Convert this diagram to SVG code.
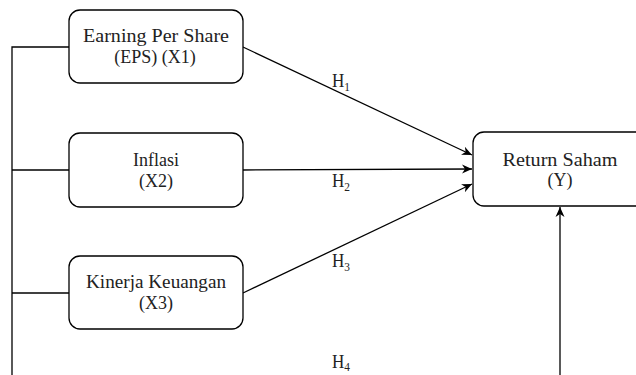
<svg xmlns="http://www.w3.org/2000/svg" width="636" height="375" viewBox="0 0 636 375">
<style>
.box{fill:#fff;stroke:#000;stroke-width:1.3}
.t{font-family:"Liberation Serif","Times New Roman","DejaVu Serif",serif;font-size:18px;fill:#222;text-anchor:middle}
.h{font-family:"Liberation Serif","Times New Roman","DejaVu Serif",serif;font-size:18px;fill:#222}
.s{font-size:12px}
.c{fill:none;stroke:#000;stroke-width:1.3}
</style>
<defs>
<marker id="ah" viewBox="0 0 10 10" refX="10" refY="5" markerWidth="10" markerHeight="10" markerUnits="userSpaceOnUse" orient="auto">
<path d="M0,0.5 L10,5 L0,9.5 L3,5 Z" fill="#000"/>
</marker>
</defs>
<g id="connectors">
<path class="c" d="M12,375 V47 H69"/>
<path class="c" d="M12,170 H69"/>
<path class="c" d="M12,293 H69"/>
<path class="c" d="M243,47 L472,155" marker-end="url(#ah)"/>
<path class="c" d="M243,170 L472,169" marker-end="url(#ah)"/>
<path class="c" d="M243,293 L472,184" marker-end="url(#ah)"/>
<path class="c" d="M560,375 V207" marker-end="url(#ah)"/>
<text class="h" x="332" y="87" textLength="18" lengthAdjust="spacingAndGlyphs">H<tspan class="s" dy="4">1</tspan></text>
<text class="h" x="332" y="187" textLength="18" lengthAdjust="spacingAndGlyphs">H<tspan class="s" dy="4">2</tspan></text>
<text class="h" x="332" y="267" textLength="18" lengthAdjust="spacingAndGlyphs">H<tspan class="s" dy="4">3</tspan></text>
<text class="h" x="332" y="368" textLength="18" lengthAdjust="spacingAndGlyphs">H<tspan class="s" dy="3">4</tspan></text>
</g>
<g id="x1">
<rect class="box" x="69" y="10" width="174" height="73" rx="11"/>
<text class="t" x="156" y="42" textLength="146" lengthAdjust="spacingAndGlyphs">Earning Per Share</text>
<text class="t" x="155" y="63">(EPS) (X1)</text>
</g>
<g id="x2">
<rect class="box" x="69" y="133" width="174" height="74" rx="11"/>
<text class="t" x="156" y="166">Inflasi</text>
<text class="t" x="156" y="187">(X2)</text>
</g>
<g id="x3">
<rect class="box" x="69" y="256" width="174" height="73" rx="11"/>
<text class="t" x="156" y="288" textLength="140" lengthAdjust="spacingAndGlyphs">Kinerja Keuangan</text>
<text class="t" x="156" y="309">(X3)</text>
</g>
<g id="y">
<rect class="box" x="473" y="132" width="175" height="74" rx="11"/>
<text class="t" x="560" y="166" textLength="115" lengthAdjust="spacingAndGlyphs">Return Saham</text>
<text class="t" x="560" y="186">(Y)</text>
</g>
</svg>
